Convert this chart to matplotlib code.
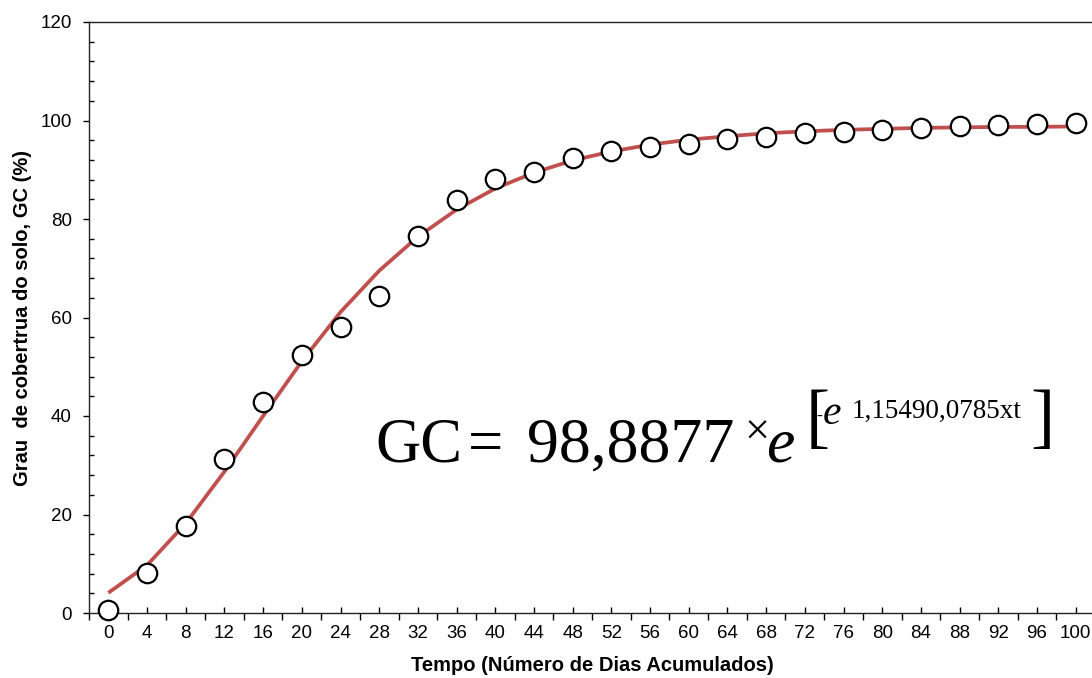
"""
Curva de cobertura do solo (GC) ao longo do tempo, com ajuste de Gompertz.
"""

import matplotlib.pyplot as plt
import matplotlib.ticker as ticker

# Dados
DAYS = [0, 4, 8, 12, 16, 20, 24, 28, 32, 36, 40, 44, 48,
        52, 56, 60, 64, 68, 72, 76, 80, 84, 88, 92, 96, 100]
GC_OBS = [0.7, 8.2, 17.6, 31.2, 42.9, 52.3, 58.0, 64.4, 76.6, 83.9, 88.2, 89.5, 92.4,
          93.8, 94.6, 95.2, 96.3, 96.7, 97.5, 97.7, 98.1, 98.4, 98.9, 99.1, 99.3, 99.5]
GC_FIT = [4.1, 9.7, 18.2, 28.7, 40.0, 51.1, 61.1, 69.5, 76.4, 81.9, 86.2, 89.4, 91.9,
          93.7, 95.1, 96.1, 96.8, 97.4, 97.8, 98.1, 98.3, 98.5, 98.6, 98.7, 98.7, 98.8]

Y_TICKS = [0, 20, 40, 60, 80, 100, 120]

W, H = 1092, 678
LINE_COLOR = "#C0504D"

plt.rcParams["font.family"] = ["Liberation Sans", "DejaVu Sans"]


def fx(x):
    return x / W


def fy(y):
    return 1 - y / H


def main():
    fig = plt.figure(figsize=(W / 100, H / 100), dpi=100)
    ax = fig.add_axes([fx(89), fy(613), 1006 / W, (613 - 22) / H])

    ax.plot(DAYS, GC_FIT, color=LINE_COLOR, lw=2.7, solid_capstyle="butt", zorder=2)
    ax.plot(DAYS, GC_OBS, linestyle="none", marker="o", ms=14,
            mfc="white", mec="black", mew=1.6, zorder=3, clip_on=False)

    ax.set_xlim(-2, 102)
    ax.set_ylim(0, 120)

    # eixo x: traços nos limites das categorias, rótulos no centro
    ax.xaxis.set_major_locator(ticker.FixedLocator([d - 2 for d in DAYS] + [102]))
    ax.xaxis.set_major_formatter(ticker.NullFormatter())
    ax.xaxis.set_minor_locator(ticker.FixedLocator(DAYS))
    ax.xaxis.set_minor_formatter(ticker.FixedFormatter([str(d) for d in DAYS]))
    ax.tick_params(axis="x", which="major", direction="out", length=5, width=1)
    ax.tick_params(axis="x", which="minor", direction="in", length=4, width=1,
                   labelsize=13.5, pad=9)

    ax.set_yticks(Y_TICKS)
    ax.yaxis.set_minor_locator(ticker.MultipleLocator(4))
    ax.tick_params(axis="y", which="major", direction="out", length=4.5, width=1,
                   labelsize=13.5, pad=8)
    ax.tick_params(axis="y", which="minor", direction="in", length=3.5, width=1)

    for s in ax.spines.values():
        s.set_linewidth(1)
        s.set_color("#222222")
    ax.spines["right"].set_visible(False)

    ax.set_xlabel("Tempo (Número de Dias Acumulados)", fontsize=14.5,
                  fontweight="bold", labelpad=10)
    ax.set_ylabel("Grau  de cobertrua do solo, GC (%)", fontsize=14.5,
                  fontweight="bold", labelpad=6)

    # equação do ajuste
    serif = ["Liberation Serif", "DejaVu Serif"]
    fig.text(fx(375), fy(462), "GC", family=serif, size=45, va="baseline")
    fig.text(fx(468), fy(462), "=", family=serif, size=45, va="baseline")
    fig.text(fx(527), fy(462), "98,8877", family=serif, size=46, va="baseline")
    fig.text(fx(744), fy(445), "×", family=serif, size=32, va="baseline")
    fig.text(fx(766), fy(462), "e", family=serif, size=46, style="italic", va="baseline")
    fig.text(fx(806), fy(389), "[", family=serif, size=52, va="top")
    fig.text(fx(816), fy(421), "-", family=serif, size=13, va="baseline")
    fig.text(fx(823), fy(424), "e", family=serif, size=30, style="italic", va="baseline")
    fig.text(fx(852), fy(418), "1,15490,0785xt", family=serif, size=19.5, va="baseline")
    fig.text(fx(1030), fy(389), "]", family=serif, size=52, va="top")

    fig.savefig("out.png", dpi=100)
    plt.close(fig)


if __name__ == "__main__":
    main()
